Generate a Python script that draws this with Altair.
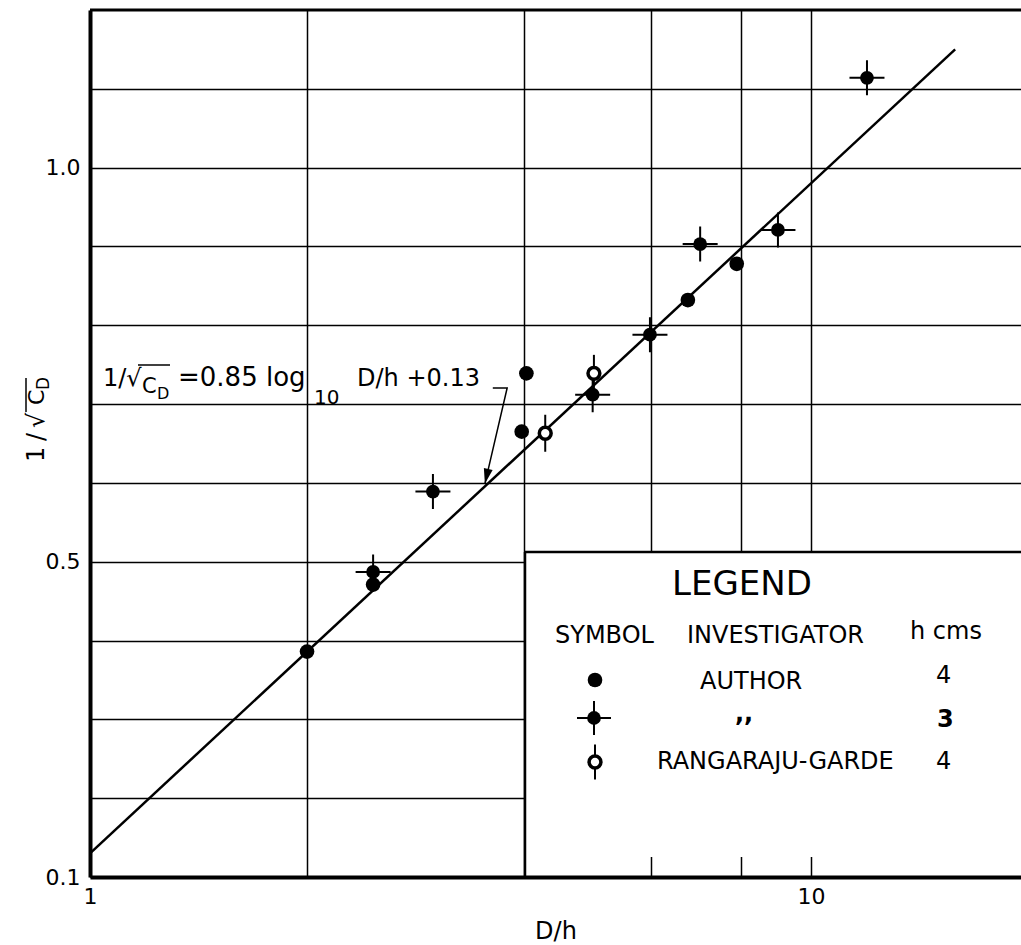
import altair as alt
import pandas as pd

FONT = "DejaVu Sans"

# ---------------- data ----------------
author4_x = [2.0, 2.47, 3.97, 4.03, 6.75, 7.89]
author4_y = [0.386, 0.471, 0.665, 0.739, 0.832, 0.878]
author3_x = [2.47, 2.99, 4.98, 5.98, 7.02, 9.0, 11.96]
author3_y = [0.487, 0.589, 0.712, 0.788, 0.903, 0.921, 1.114]
rg_x = [4.28, 5.0]
rg_y = [0.663, 0.739]
fit_x = [1.0, 15.85]
fit_y = [0.13, 1.15]
leader_x = [3.62, 3.79, 3.53]
leader_y = [0.7205, 0.7205, 0.599]
arrow_x = [3.53]
arrow_y = [0.599]

x_grid_values = [1, 2, 4, 6, 8, 10]
x_label_values = ["1", "10"]
y_grid_values = [0.1, 0.2, 0.3, 0.4, 0.5, 0.6, 0.7, 0.8, 0.9, 1.0, 1.1]
y_label_values = ["0.1", "0.5", "1.0"]
x_title = "D/h"
y_title_parts = ["1", "/", "√", "C", "D"]
formula_parts = ["1/√", "C", "D", "=0.85 log", "10", "D/h +0.13"]
legend_title = "LEGEND"
legend_headers = ["SYMBOL", "INVESTIGATOR", "h cms"]
legend_names = ["AUTHOR", ",,", "RANGARAJU-GARDE"]
legend_h = ["4", "3", "4"]

# ---------------- geometry ----------------
PL, PT = 90, 10
W, H = 931, 867
x_domain = [1, 19.56]
y_domain = [0.1, 1.2]

one = pd.DataFrame({"k": [0]})


def txt(s, xi, yi, size=24, angle=0, weight="normal"):
    return alt.Chart(one).mark_text(
        text=s, font=FONT, fontSize=size, angle=angle, align="left",
        baseline="alphabetic", color="black", fontWeight=weight
    ).encode(x=alt.value(xi - PL), y=alt.value(yi - PT))


def rule(x1, y1, x2, y2, w=2.0):
    return alt.Chart(one).mark_rule(color="black", strokeWidth=w).encode(
        x=alt.value(x1 - PL), x2=alt.value(x2 - PL),
        y=alt.value(y1 - PT), y2=alt.value(y2 - PT))


x_label_expr = ("indexof(" + str(x_label_values) + ", format(datum.value, 'd')) >= 0 ? "
                "format(datum.value, 'd') : ''")
y_label_expr = ("indexof(" + str(y_label_values) + ", format(datum.value, '.1f')) >= 0 ? "
                "format(datum.value, '.1f') : ''")

xaxis = alt.Axis(values=x_grid_values, labelExpr=x_label_expr, grid=True, ticks=False,
                 domainColor="black", domainWidth=4, gridColor="black", gridWidth=1.5,
                 gridOpacity=1, labelFont=FONT, labelFontSize=22, labelColor="black",
                 labelPadding=9, labelFlush=False, labelOverlap=False,
                 title=x_title, titleFont=FONT, titleFontSize=24, titleFontWeight="normal",
                 titleColor="black", titlePadding=12, zindex=0)
yaxis = alt.Axis(values=y_grid_values, labelExpr=y_label_expr, grid=True, ticks=False,
                 domainColor="black", domainWidth=4, gridColor="black", gridWidth=1.5,
                 gridOpacity=1, labelFont=FONT, labelFontSize=22, labelColor="black",
                 labelPadding=10, labelOverlap=False, title=None, zindex=0)

xs = alt.Scale(type="log", domain=x_domain, nice=False)
ys = alt.Scale(domain=y_domain, nice=False, zero=False)
X = alt.X("x:Q", scale=xs, axis=xaxis)
Y = alt.Y("y:Q", scale=ys, axis=yaxis)

df4 = pd.DataFrame({"x": author4_x, "y": author4_y})
df3 = pd.DataFrame({"x": author3_x, "y": author3_y})
dfrg = pd.DataFrame({"x": rg_x, "y": rg_y})
dffit = pd.DataFrame({"x": fit_x, "y": fit_y})
dflead = pd.DataFrame({"x": leader_x, "y": leader_y, "i": list(range(len(leader_x)))})
dfarrow = pd.DataFrame({"x": arrow_x, "y": arrow_y})

PLUS = "M-1,0H1M0,-1V1"
VBAR = "M0,-1V1"
ARROW = "M0,0L-0.3,-1L0.3,-1Z"

layers = []
# legend background box (covers the grid)
layers.append(alt.Chart(one).mark_rect(color="white").encode(
    x=alt.value(525 - PL), x2=alt.value(W), y=alt.value(552 - PT), y2=alt.value(857 - PT)))
# top frame line and legend borders
layers.append(rule(PL, PT, PL + W, PT, 3))
layers.append(rule(525, 552, PL + W, 552, 2.5))
layers.append(rule(525, 552, 525, PT + H, 2.5))

# fitted line and annotation leader
layers.append(alt.Chart(dffit).mark_line(color="black", strokeWidth=2.5).encode(X, Y))
layers.append(alt.Chart(dflead).mark_line(color="black", strokeWidth=1.5).encode(X, Y, order="i:O"))
layers.append(alt.Chart(dfarrow).mark_point(shape=ARROW, size=900, filled=True, color="black",
                                            opacity=1, angle=12.8).encode(X, Y))

# data symbols
layers.append(alt.Chart(df3).mark_point(shape=PLUS, size=1225, filled=False, color="black",
                                        strokeWidth=2, opacity=1).encode(X, Y))
layers.append(alt.Chart(df3).mark_circle(size=190, color="black", opacity=1).encode(X, Y))
layers.append(alt.Chart(df4).mark_circle(size=215, color="black", opacity=1).encode(X, Y))
layers.append(alt.Chart(dfrg).mark_point(shape=VBAR, size=1369, filled=False, color="black",
                                         strokeWidth=2, opacity=1).encode(X, Y))
layers.append(alt.Chart(dfrg).mark_point(shape="circle", size=140, filled=True, fill="white",
                                         stroke="black", strokeWidth=3.5, opacity=1).encode(X, Y))

# legend symbols
layers.append(alt.Chart(one).mark_circle(size=215, color="black", opacity=1).encode(
    x=alt.value(595 - PL), y=alt.value(680 - PT)))
layers.append(alt.Chart(one).mark_point(shape=PLUS, size=1156, filled=False, color="black",
                                        strokeWidth=2, opacity=1).encode(
    x=alt.value(594 - PL), y=alt.value(718 - PT)))
layers.append(alt.Chart(one).mark_circle(size=190, color="black", opacity=1).encode(
    x=alt.value(594 - PL), y=alt.value(718 - PT)))
layers.append(alt.Chart(one).mark_point(shape=VBAR, size=1225, filled=False, color="black",
                                        strokeWidth=2, opacity=1).encode(
    x=alt.value(595 - PL), y=alt.value(762 - PT)))
layers.append(alt.Chart(one).mark_point(shape="circle", size=140, filled=True, fill="white",
                                        stroke="black", strokeWidth=3.5, opacity=1).encode(
    x=alt.value(595 - PL), y=alt.value(762 - PT)))

# legend texts
layers.append(txt(legend_title, 672, 595, 34))
layers.append(txt(legend_headers[0], 555, 643))
layers.append(txt(legend_headers[1], 687, 643))
layers.append(txt(legend_headers[2], 910, 639))
layers.append(txt(legend_names[0], 700, 689))
layers.append(txt(legend_names[1], 735, 721, 24, weight="bold"))
layers.append(txt(legend_names[2], 657, 769))
layers.append(txt(legend_h[0], 936, 683))
layers.append(txt(legend_h[1], 937, 727, 24, weight="bold"))
layers.append(txt(legend_h[2], 936, 769))

# formula annotation
layers.append(txt(formula_parts[0], 103, 386, 24))
layers.append(txt(formula_parts[1], 142, 393, 21))
layers.append(txt(formula_parts[2], 157, 399, 16))
layers.append(rule(138, 365, 170, 365, 1.5))
layers.append(txt(formula_parts[3], 178, 386, 26))
layers.append(txt(formula_parts[4], 314, 404, 20))
layers.append(txt(formula_parts[5], 357, 386, 24))

# y-axis title, rotated
layers.append(txt(y_title_parts[0], 44, 462, 24, angle=270))
layers.append(txt(y_title_parts[1], 44, 441, 24, angle=270))
layers.append(txt(y_title_parts[2], 44, 428, 24, angle=270))
layers.append(txt(y_title_parts[3], 44, 405, 22, angle=270))
layers.append(txt(y_title_parts[4], 49, 390, 17, angle=270))
layers.append(rule(26, 412, 26, 378, 1.5))

chart = alt.layer(*layers).properties(
    width=W, height=H,
    autosize=alt.AutoSizeParams(type="none"),
    padding={"left": PL, "top": PT, "right": 0, "bottom": 945 - PT - H},
    background="white",
).configure_view(stroke="transparent")

chart.save("out.html", embed_options={"renderer": "svg", "actions": False})
